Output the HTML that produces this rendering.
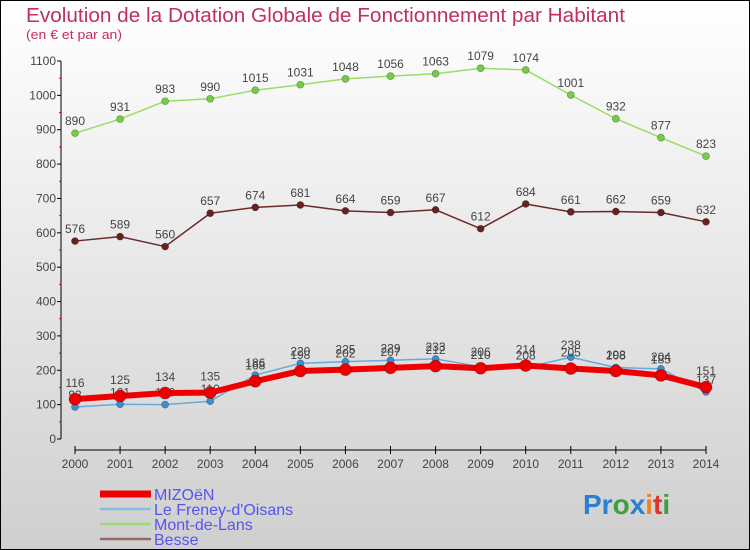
<!DOCTYPE html>
<html><head><meta charset="utf-8"><style>
html,body{margin:0;padding:0}
body{width:750px;height:550px;overflow:hidden;font-family:"Liberation Sans",sans-serif}
svg{display:block}
</style></head><body>
<svg id="c" width="750" height="550" xmlns="http://www.w3.org/2000/svg">
<defs><linearGradient id="bg" x1="0" y1="0" x2="0" y2="1"><stop offset="0" stop-color="#ffffff"/><stop offset="1" stop-color="#cfcfcf"/></linearGradient></defs>
<rect x="0.5" y="0.5" width="749" height="549" fill="url(#bg)" stroke="#000"/>
<text x="26" y="22" font-size="20" fill="#c0305a" textLength="599" lengthAdjust="spacingAndGlyphs">Evolution de la Dotation Globale de Fonctionnement par Habitant</text>
<text x="26" y="39" font-size="13" fill="#c0305a" textLength="96" lengthAdjust="spacingAndGlyphs">(en € et par an)</text>
<g id="axes"></g><g id="series"></g><g id="legend"></g>
<text x="583" y="514" font-size="28" font-weight="bold"><tspan fill="#2a7fd0">Pr</tspan><tspan fill="#3aa040">o</tspan><tspan fill="#2a7fd0">x</tspan><tspan fill="#f08020">i</tspan><tspan fill="#e03030">t</tspan><tspan fill="#3aa040">i</tspan></text>
</svg>
<script>
const years=[2000,2001,2002,2003,2004,2005,2006,2007,2008,2009,2010,2011,2012,2013,2014];
const yTicks=[0,100,200,300,400,500,600,700,800,900,1000,1100];
const mizoen=[116,125,134,135,168,198,202,207,212,206,214,205,198,185,151];
const freney=[93,101,100,110,186,220,225,229,233,210,208,238,208,204,137];
const montDeLans=[890,931,983,990,1015,1031,1048,1056,1063,1079,1074,1001,932,877,823];
const besse=[576,589,560,657,674,681,664,659,667,612,684,661,662,659,632];
const seriesNames=["MIZOëN","Le Freney-d'Oisans","Mont-de-Lans","Besse"];
const NS="http://www.w3.org/2000/svg";
const X=i=>75+i*(631/14);
const Y=v=>439-v*(378/1100);
function mk(tag,attrs,parent){const e=document.createElementNS(NS,tag);for(const k in attrs)e.setAttribute(k,attrs[k]);parent.appendChild(e);return e;}
const ax=document.getElementById('axes');
let yl=mk('line',{x1:61,y1:Y(1100),x2:61,y2:Y(0),stroke:'#000'},ax);


yTicks.forEach(t=>{
 const tk=mk('line',{x1:57,x2:61,y1:Y(t),y2:Y(t),stroke:'#000'},ax);
 
 
 if(t<1100){const m=mk('line',{x1:59,x2:61,y1:Y(t+50),y2:Y(t+50),stroke:'#e00'},ax);
 
 }
 const tx=mk('text',{x:56,y:Y(t)+4,'font-size':12,'text-anchor':'end',fill:'#444'},ax);tx.textContent=t;
 
 
});
let xl=mk('line',{x1:X(0),y1:450,x2:X(14),y2:450,stroke:'#000'},ax);


years.forEach((yr,i)=>{
 const tk=mk('line',{x1:X(i),x2:X(i),y1:446,y2:454,stroke:'#000'},ax);
 
 
 const tx=mk('text',{x:X(i),y:468,'font-size':12,'text-anchor':'middle',fill:'#444'},ax);tx.textContent=yr;
 
 
});
const sg=document.getElementById('series');
function draw(vals,color,dot,width,r,name,labelDy){
 const g=mk('g',{},sg);
 
 
 const pl=mk('polyline',{points:vals.map((v,i)=>X(i)+','+Y(v)).join(' '),fill:'none',stroke:color,'stroke-width':width,'stroke-linejoin':'round'},g);
 
 
 vals.forEach((v,i)=>{
  const c=mk('circle',{cx:X(i),cy:Y(v),r:r,fill:dot,stroke:'rgba(0,0,0,0.35)','stroke-width':0.7},g);
  
  
  const t=mk('text',{x:X(i),y:Y(v)+labelDy,'font-size':12,'text-anchor':'middle',fill:'#444'},g);t.textContent=v;
  
  
 });
}
draw(montDeLans,'#99dd66','#77cc44',1.5,3.5,'mont-de-lans',-8);
draw(besse,'#6b2a2a','#6b2020',1.5,3.5,'besse',-8);
draw(freney,'#66aadd','#3a8fd0',1.5,3.5,'freney',-8);
draw(mizoen,'#ee0000','#ee0000',6,6,'mizoen',-12);
const lg=document.getElementById('legend');
const lc=['#ee0000','#88bbdd','#99dd77','#996666'],lw=[7,2.5,2.5,2.5];
seriesNames.forEach((n,i)=>{
 const y=493+i*15;
 const l=mk('line',{x1:100,x2:151,y1:y+1,y2:y+1,stroke:lc[i],'stroke-width':lw[i]},lg);
 
 
 const t=mk('text',{x:154,y:y+7,'font-size':16,fill:'#5555ee'},lg);t.textContent=n;
 
 
});
</script>
</body></html>
